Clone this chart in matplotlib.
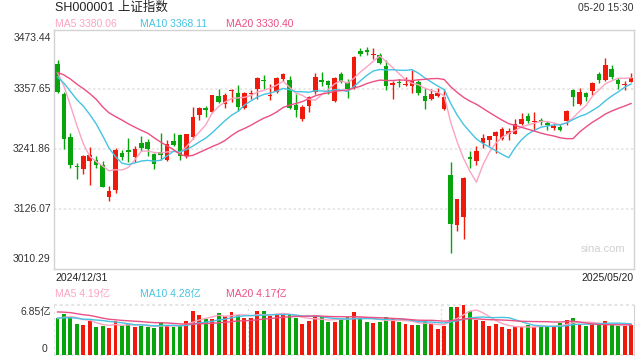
import matplotlib.pyplot as plt
import numpy as np
import pandas as pd

plt.rcParams['font.family'] = ['Liberation Sans', 'Noto Sans CJK SC']

# daily candles 2024/12/31 .. 2025/05/20
opens = [3407, 3348, 3266, 3208, 3203, 3220, 3222, 3211, 3150, 3164,
         3234, 3240, 3226, 3254, 3256, 3233, 3236, 3222, 3257, 3270,
         3228, 3266, 3308, 3322, 3313, 3344, 3329, 3354, 3350, 3322,
         3349, 3358, 3376, 3345, 3352, 3378, 3375, 3328, 3300, 3325,
         3352, 3375, 3373, 3335, 3387, 3371, 3361, 3431, 3434, 3424,
         3425, 3402, 3366, 3371, 3366, 3364, 3372, 3345, 3340, 3345,
         3319, 3193, 3095, 3110, 3226, 3219, 3253, 3260, 3267, 3261,
         3271, 3272, 3290, 3307, 3294, 3299, 3292, 3282, 3285, 3296,
         3356, 3330, 3350, 3354, 3387, 3376, 3398, 3375, 3366, 3372]
highs = [3414, 3352, 3274, 3215, 3230, 3246, 3228, 3219, 3171, 3244,
         3241, 3264, 3248, 3268, 3261, 3235, 3274, 3260, 3274, 3271,
         3272, 3324, 3324, 3325, 3346.5, 3359, 3351, 3359, 3367, 3352,
         3356, 3382, 3385, 3369, 3382, 3390, 3383, 3348, 3327, 3345,
         3389, 3391, 3376, 3381, 3392, 3377, 3422, 3437, 3439, 3438,
         3427.5, 3414, 3374, 3378, 3382, 3395, 3376, 3360, 3358, 3361,
         3358, 3217, 3145.6, 3188, 3239, 3249, 3272, 3268, 3277, 3285,
         3283, 3301, 3311, 3312, 3314, 3303, 3296, 3292, 3291, 3318,
         3358, 3360, 3352, 3372, 3391, 3418, 3404, 3380, 3374, 3389]
lows = [3351, 3242, 3206, 3184, 3194, 3173, 3205, 3168, 3141, 3158,
        3222, 3217, 3217, 3238, 3228, 3204, 3222, 3220, 3249, 3222,
        3225, 3262, 3299, 3304, 3311, 3332, 3322, 3333, 3315, 3320,
        3340, 3340, 3358, 3338, 3351, 3374, 3319, 3305, 3297, 3314,
        3348, 3365, 3348, 3334, 3370, 3341, 3359, 3423, 3424, 3416,
        3406, 3356, 3340, 3363, 3365, 3351, 3346, 3319, 3338, 3343,
        3318, 3040.69, 3084, 3069, 3206, 3212, 3245, 3248, 3234, 3259,
        3260, 3271, 3288, 3293, 3277, 3288, 3280, 3279, 3277, 3288,
        3325, 3327, 3335, 3346, 3370, 3374, 3378, 3358, 3356, 3371]
closes = [3351.76, 3262.56, 3211.43, 3206.92, 3229.64, 3230.17, 3211.39, 3168.52, 3160.76, 3240.94,
          3227.12, 3236.03, 3241.82, 3244.38, 3242.62, 3213.62, 3230.16, 3252.63, 3250.60, 3229.49,
          3270.66, 3303.67, 3322.17, 3318.06, 3346.39, 3332.48, 3346.72, 3355.83, 3324.49, 3351.54,
          3350.78, 3379.11, 3373.03, 3346.04, 3380.21, 3388.06, 3320.90, 3316.93, 3324.21, 3341.96,
          3381.10, 3372.55, 3366.16, 3379.83, 3371.92, 3358.73, 3419.56, 3426.43, 3429.76, 3426.43,
          3408.95, 3364.83, 3370.03, 3369.98, 3368.70, 3373.75, 3351.31, 3335.75, 3348.44, 3350.13,
          3342.01, 3096.58, 3145.55, 3186.81, 3223.64, 3238.23, 3262.81, 3267.66, 3276.00, 3280.34,
          3276.73, 3291.43, 3299.76, 3296.36, 3297.29, 3295.06, 3288.41, 3286.65, 3279.03, 3316.11,
          3342.67, 3352.00, 3342.00, 3369.24, 3374.87, 3403.95, 3380.82, 3367.46, 3367.58, 3380.48]
# closes of the 19 sessions before 2024/12/31 (for the moving averages)
prior_closes = [3364.65, 3368.86, 3404.08, 3402.53, 3422.66, 3432.49, 3461.50, 3391.88, 3386.33, 3361.49,
                3382.21, 3370.03, 3368.07, 3351.26, 3393.53, 3393.35, 3398.08, 3400.14, 3407.33]

# volume in 亿
volumes = [5.07, 5.62, 5.20, 4.25, 4.11, 4.70, 3.84, 3.97, 3.70, 4.70,
           4.07, 4.25, 3.84, 3.97, 3.84, 3.70, 4.52, 3.97, 3.84, 3.97,
           4.66, 6.03, 5.48, 4.98, 4.98, 5.75, 5.34, 5.89, 5.48, 5.07,
           5.07, 6.03, 6.03, 5.34, 5.48, 5.62, 5.48, 5.07, 4.25, 4.66,
           5.34, 5.20, 4.52, 4.52, 4.93, 5.25, 5.89, 5.07, 4.52, 4.38,
           4.52, 5.20, 5.07, 4.52, 4.25, 4.11, 4.11, 4.80, 4.25, 3.56,
           3.97, 6.58, 6.58, 6.85, 6.03, 4.80, 4.66, 3.97, 4.25, 3.84,
           3.56, 3.84, 3.84, 4.11, 3.84, 3.97, 3.97, 3.84, 4.38, 4.80,
           5.07, 4.25, 3.97, 4.25, 4.25, 4.66, 4.11, 3.97, 3.97, 4.11]
prior_volumes = [6.2, 6.5, 7.2, 6.9, 6.6, 7.4, 7.8, 6.8, 6.2, 5.7,
                 5.3, 5.1, 5.0, 5.4, 4.9, 4.8, 4.6, 5.0, 5.5]

price_ticks = [3473.44, 3357.65, 3241.86, 3126.07, 3010.29]

RED = '#f01a0c'
GREEN = '#08a40c'
C_MA5 = '#fba4c2'
C_MA10 = '#45c3e3'
C_MA20 = '#ec4f83'
GRID = '#e2e2e2'
FRAME = '#d2d2d2'

n = len(closes)
x = np.arange(n)
o = np.array(opens)
c = np.array(closes)
cols = [RED if c[i] >= o[i] else GREEN for i in range(n)]

cs = pd.Series(prior_closes + closes)
vs = pd.Series(prior_volumes + volumes)
ma = {k: cs.rolling(k).mean().values[-n:] for k in (5, 10, 20)}
vma = {k: vs.rolling(k).mean().values[-n:] for k in (5, 10, 20)}

fig = plt.figure(figsize=(6.4, 3.6), dpi=100)
ax = fig.add_axes([54.3 / 640, 1 - 269 / 360, 580 / 640, 239.5 / 360])
vax = fig.add_axes([54.3 / 640, 1 - 355 / 360, 580 / 640, 50 / 360])

# main chart
for y in price_ticks[1:-1]:
    ax.axhline(y, color=GRID, lw=1.1, ls=(0, (1.6, 1.6)), zorder=0)
ax.vlines(x, lows, highs, colors=cols, lw=1, zorder=2)
body = np.maximum(np.abs(c - o), 1.6)
ax.bar(x, body, bottom=np.minimum(o, c), width=0.7, color=cols, zorder=3)
ax.plot(x, ma[5], color=C_MA5, lw=1, zorder=4)
ax.plot(x, ma[10], color=C_MA10, lw=1, zorder=4)
ax.plot(x, ma[20], color=C_MA20, lw=1, zorder=4)
ax.set_xlim(-0.5, n - 0.5)
ax.set_ylim(price_ticks[-1], price_ticks[0])
ax.set_xticks([])
ax.set_yticks([])
for s in ax.spines.values():
    s.set_color(FRAME)
    s.set_linewidth(1)
ax.text(0.985, 0.085, 'sina.com', transform=ax.transAxes, ha='right', va='center',
        fontsize=8, color='#d0d0d0')

# price labels
for i, v in enumerate(price_ticks):
    yy = 1 - i / 4
    va = 'center'
    if i == 0:
        yy, va = 0.985, 'top'
    if i == 4:
        yy, va = 0.02, 'bottom'
    ax.text(-0.006, yy, f'{v:.2f}', transform=ax.transAxes,
            ha='right', va=va, fontsize=7.5, color='#333333')

# volume chart
vax.bar(x, volumes, width=0.6, color=cols, zorder=2)
vax.plot(x, vma[5], color=C_MA5, lw=1, zorder=3)
vax.plot(x, vma[10], color=C_MA10, lw=1, zorder=3)
vax.plot(x, vma[20], color=C_MA20, lw=1, zorder=3)
vax.set_xlim(-0.5, n - 0.5)
vax.set_ylim(0, 6.85)
vax.set_xticks([])
vax.set_yticks([])
for k in ('top', 'bottom', 'left'):
    vax.spines[k].set_visible(False)
vax.spines['right'].set_color(FRAME)
vax.axhline(6.85, color=GRID, lw=1.3, ls=(0, (1.6, 1.6)), clip_on=False, zorder=0)
vax.axhline(0, color=GRID, lw=1.3, ls=(0, (1.6, 1.6)), clip_on=False, zorder=0)
vax.axvline(-0.5, color=GRID, lw=1.3, ls=(0, (1.6, 1.6)), zorder=0)
for xv in (29.5, 59.5):
    vax.axvline(xv, color=GRID, lw=1, ls=(0, (1.6, 1.6)), zorder=1)
vax.text(-0.006, 0.87, '6.85亿', transform=vax.transAxes, ha='right', va='center',
         fontsize=7.5, color='#333333')
vax.text(-0.012, 0.13, '0', transform=vax.transAxes, ha='right', va='center',
         fontsize=7.5, color='#333333')

# header texts
fig.text(55 / 640, 1 - 8 / 360, 'SH000001 上证指数', ha='left', va='center', fontsize=9, color='#222222')
fig.text(634 / 640, 1 - 8 / 360, '05-20 15:30', ha='right', va='center', fontsize=7.5, color='#333333')
fig.text(55 / 640, 1 - 24 / 360, 'MA5 3380.06', ha='left', va='center', fontsize=7.5, color=C_MA5)
fig.text(140 / 640, 1 - 24 / 360, 'MA10 3368.11', ha='left', va='center', fontsize=7.5, color=C_MA10)
fig.text(225.5 / 640, 1 - 24 / 360, 'MA20 3330.40', ha='left', va='center', fontsize=7.5, color=C_MA20)
fig.text(55 / 640, 1 - 278 / 360, '2024/12/31', ha='left', va='center', fontsize=7.5, color='#222222')
fig.text(634 / 640, 1 - 278 / 360, '2025/05/20', ha='right', va='center', fontsize=7.5, color='#222222')
fig.text(55 / 640, 1 - 294.5 / 360, 'MA5 4.19亿', ha='left', va='center', fontsize=7.5, color=C_MA5)
fig.text(140 / 640, 1 - 294.5 / 360, 'MA10 4.28亿', ha='left', va='center', fontsize=7.5, color=C_MA10)
fig.text(225.5 / 640, 1 - 294.5 / 360, 'MA20 4.17亿', ha='left', va='center', fontsize=7.5, color=C_MA20)

fig.savefig('out.png', dpi=100)
